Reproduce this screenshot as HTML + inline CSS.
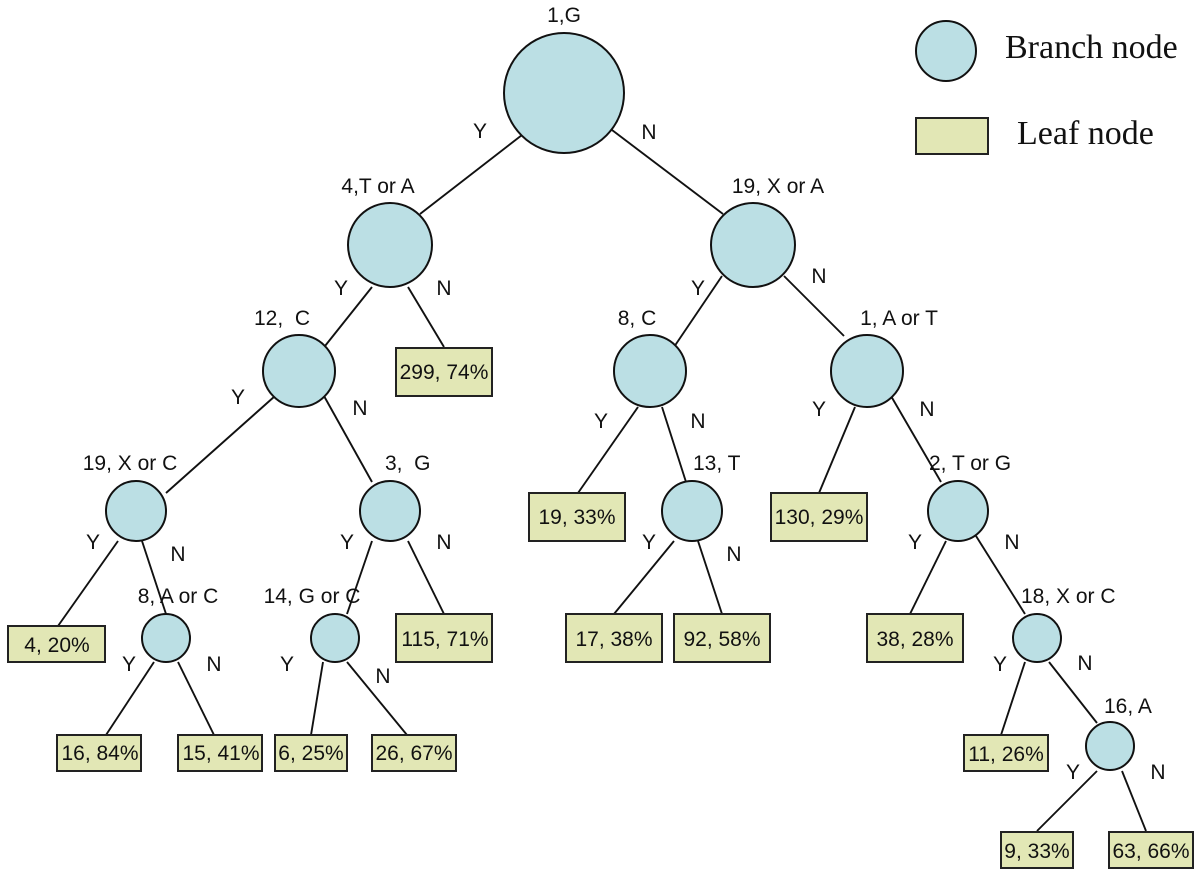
<!DOCTYPE html>
<html><head><meta charset="utf-8"><style>
html,body{margin:0;padding:0;background:#fff}
svg{display:block}
text{font-family:"Liberation Sans",sans-serif;font-size:21px;fill:#111;white-space:pre}
.s{font-family:"Liberation Serif",serif;font-size:34px}
circle{fill:#bbdfe4;stroke:#111;stroke-width:2}
rect{fill:#e2e7b5;stroke:#222;stroke-width:2}
line{stroke:#111;stroke-width:1.9}
.m{text-anchor:middle}
</style></head><body>
<svg width="1200" height="873" viewBox="0 0 1200 873" xmlns="http://www.w3.org/2000/svg">
<g>
<line x1="522" y1="135" x2="420" y2="214"/>
<line x1="612" y1="130" x2="723" y2="214"/>
<line x1="372" y1="287" x2="325" y2="346"/>
<line x1="408" y1="287" x2="444" y2="347"/>
<line x1="722" y1="276" x2="674" y2="347"/>
<line x1="784" y1="276" x2="844" y2="336"/>
<line x1="275" y1="396" x2="166" y2="493"/>
<line x1="324" y1="396" x2="372" y2="482"/>
<line x1="638" y1="407" x2="578" y2="493"/>
<line x1="662" y1="407" x2="686" y2="482"/>
<line x1="855" y1="407" x2="819" y2="493"/>
<line x1="891" y1="396" x2="941" y2="482"/>
<line x1="118" y1="541" x2="58" y2="626"/>
<line x1="142" y1="541" x2="166" y2="614"/>
<line x1="372" y1="541" x2="347" y2="614"/>
<line x1="408" y1="541" x2="444" y2="614"/>
<line x1="674" y1="541" x2="614" y2="614"/>
<line x1="698" y1="541" x2="722" y2="614"/>
<line x1="946" y1="541" x2="910" y2="614"/>
<line x1="976" y1="536" x2="1025" y2="614"/>
<line x1="154" y1="662" x2="106" y2="735"/>
<line x1="178" y1="662" x2="214" y2="735"/>
<line x1="323" y1="662" x2="311" y2="735"/>
<line x1="347" y1="662" x2="407" y2="735"/>
<line x1="1025" y1="662" x2="1001" y2="735"/>
<line x1="1049" y1="662" x2="1097" y2="723"/>
<line x1="1097" y1="771" x2="1037" y2="831"/>
<line x1="1122" y1="771" x2="1146" y2="831"/>
</g>
<g>
<circle cx="564" cy="93" r="60"/>
<circle cx="390" cy="245" r="42"/>
<circle cx="753" cy="245" r="42"/>
<circle cx="299" cy="371" r="36"/>
<circle cx="650" cy="371" r="36"/>
<circle cx="867" cy="371" r="36"/>
<circle cx="136" cy="511" r="30"/>
<circle cx="390" cy="511" r="30"/>
<circle cx="692" cy="511" r="30"/>
<circle cx="958" cy="511" r="30"/>
<circle cx="166" cy="638" r="24"/>
<circle cx="335" cy="638" r="24"/>
<circle cx="1037" cy="638" r="24"/>
<circle cx="1110" cy="746" r="24"/>
<circle cx="946" cy="51" r="30"/>
</g>
<g>
<rect x="916" y="118" width="72" height="36"/>
<rect x="396" y="348" width="96" height="48"/>
<rect x="529" y="493" width="96" height="48"/>
<rect x="771" y="493" width="96" height="48"/>
<rect x="8" y="626" width="97" height="36"/>
<rect x="396" y="614" width="96" height="48"/>
<rect x="566" y="614" width="96" height="48"/>
<rect x="674" y="614" width="96" height="48"/>
<rect x="867" y="614" width="96" height="48"/>
<rect x="57" y="735" width="84" height="36"/>
<rect x="178" y="735" width="84" height="36"/>
<rect x="275" y="735" width="72" height="36"/>
<rect x="372" y="735" width="84" height="36"/>
<rect x="964" y="735" width="84" height="36"/>
<rect x="1001" y="832" width="72" height="36"/>
<rect x="1109" y="832" width="84" height="36"/>
</g>
<g>
<text class="s" x="1005" y="58">Branch node</text>
<text class="s" x="1017" y="144">Leaf node</text>

<text class="m" x="564" y="22">1,G</text>
<text class="m" x="378" y="193">4,T or A</text>
<text class="m" x="778" y="193">19, X or A</text>
<text class="m" x="282" y="325">12,  C</text>
<text class="m" x="637" y="325">8, C</text>
<text class="m" x="899" y="325">1, A or T</text>
<text class="m" x="130" y="470">19, X or C</text>
<text x="385" y="470">3,  G</text>
<text x="693" y="470">13, T</text>
<text x="929" y="470">2, T or G</text>
<text class="m" x="178" y="603">8, A or C</text>
<text class="m" x="312" y="603">14, G or C</text>
<text x="1021" y="603">18, X or C</text>
<text x="1104" y="713">16, A</text>

<text class="m" x="444" y="379">299, 74%</text>
<text class="m" x="577" y="524">19, 33%</text>
<text class="m" x="819" y="524">130, 29%</text>
<text class="m" x="57" y="652">4, 20%</text>
<text class="m" x="445" y="646">115, 71%</text>
<text class="m" x="614" y="646">17, 38%</text>
<text class="m" x="722" y="646">92, 58%</text>
<text class="m" x="915" y="646">38, 28%</text>
<text class="m" x="100" y="760">16, 84%</text>
<text class="m" x="221" y="760">15, 41%</text>
<text class="m" x="311" y="760">6, 25%</text>
<text class="m" x="414" y="760">26, 67%</text>
<text class="m" x="1006" y="761">11, 26%</text>
<text class="m" x="1037" y="858">9, 33%</text>
<text class="m" x="1151" y="858">63, 66%</text>

<text class="m" x="480" y="138">Y</text>
<text class="m" x="649" y="139">N</text>
<text class="m" x="341" y="295">Y</text>
<text class="m" x="444" y="295">N</text>
<text class="m" x="698" y="295">Y</text>
<text class="m" x="819" y="283">N</text>
<text class="m" x="238" y="404">Y</text>
<text class="m" x="360" y="415">N</text>
<text class="m" x="601" y="428">Y</text>
<text class="m" x="698" y="428">N</text>
<text class="m" x="819" y="416">Y</text>
<text class="m" x="927" y="416">N</text>
<text class="m" x="93" y="549">Y</text>
<text class="m" x="178" y="561">N</text>
<text class="m" x="347" y="549">Y</text>
<text class="m" x="444" y="549">N</text>
<text class="m" x="649" y="549">Y</text>
<text class="m" x="734" y="561">N</text>
<text class="m" x="915" y="549">Y</text>
<text class="m" x="1012" y="549">N</text>
<text class="m" x="129" y="671">Y</text>
<text class="m" x="214" y="671">N</text>
<text class="m" x="287" y="671">Y</text>
<text class="m" x="383" y="683">N</text>
<text class="m" x="1000" y="671">Y</text>
<text class="m" x="1085" y="670">N</text>
<text class="m" x="1073" y="779">Y</text>
<text class="m" x="1158" y="779">N</text>
</g>
</svg>
</body></html>
